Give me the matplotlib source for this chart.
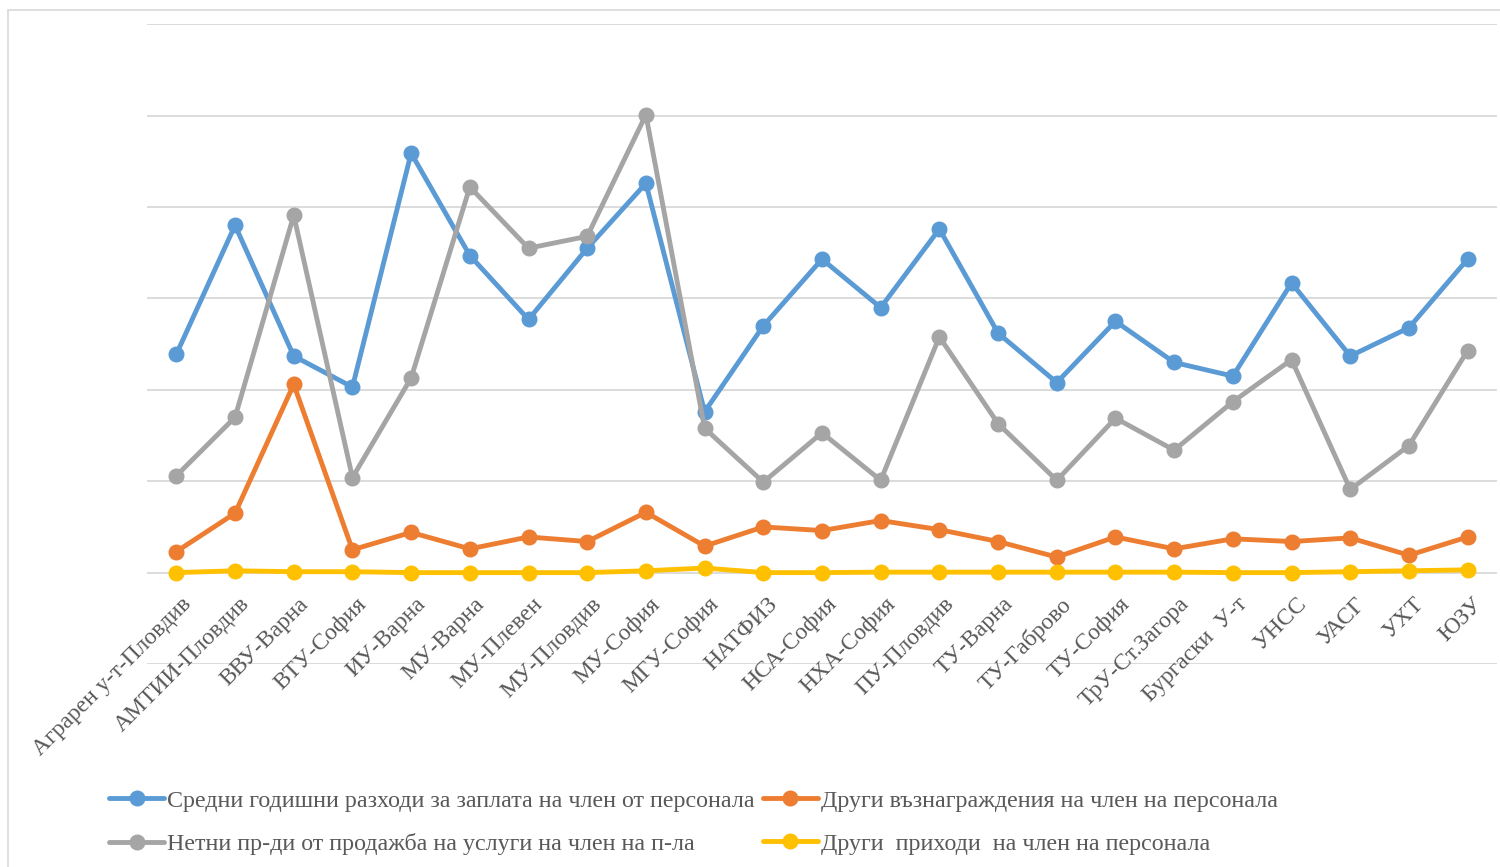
import matplotlib
matplotlib.use("Agg")
import matplotlib.pyplot as plt
import matplotlib.patches as mpatches
import matplotlib.transforms as mtransforms

categories = ["Аграрен у-т-Пловдив", "АМТИИ-Пловдив", "ВВУ-Варна", "ВТУ-София", "ИУ-Варна",
              "МУ-Варна", "МУ-Плевен", "МУ-Пловдив", "МУ-София", "МГУ-София", "НАТФИЗ",
              "НСА-София", "НХА-София", "ПУ-Пловдив", "ТУ-Варна", "ТУ-Габрово", "ТУ-София",
              "ТрУ-Ст.Загора", "Бургаски  У-т", "УНСС", "УАСГ", "УХТ", "ЮЗУ"]

salary = [2.39, 3.80, 2.37, 2.03, 4.59, 3.47, 2.77, 3.55, 4.26, 1.76, 2.70, 3.43,
          2.90, 3.76, 2.62, 2.08, 2.75, 2.30, 2.15, 3.17, 2.37, 2.68, 3.43]
other_pay = [0.23, 0.65, 2.06, 0.25, 0.44, 0.26, 0.39, 0.34, 0.66, 0.29, 0.50, 0.46,
             0.57, 0.47, 0.34, 0.17, 0.39, 0.26, 0.37, 0.34, 0.38, 0.19, 0.39]
net_sales = [1.06, 1.70, 3.91, 1.04, 2.13, 4.22, 3.55, 3.68, 5.01, 1.58, 0.99, 1.53,
             1.01, 2.58, 1.63, 1.01, 1.69, 1.34, 1.87, 2.33, 0.91, 1.39, 2.43]
other_income = [0.00, 0.02, 0.01, 0.01, 0.00, 0.00, 0.00, 0.00, 0.02, 0.05, 0.00, 0.00,
                0.005, 0.005, 0.005, 0.005, 0.005, 0.005, 0.00, 0.00, 0.01, 0.02, 0.03]

names = ["Средни годишни разходи за заплата на член от персонала",
         "Други възнаграждения на член на персонала",
         "Нетни пр-ди от продажба на услуги на член на п-ла",
         "Други  приходи  на член на персонала"]
colors = ["#5B9BD5", "#ED7D31", "#A5A5A5", "#FFC000"]

plt.rcParams['font.family'] = ['Liberation Serif', 'DejaVu Serif']

W, H = 1500, 867
fig = plt.figure(figsize=(W / 100, H / 100), dpi=100)

# outer chart border
fig.patches.append(mpatches.Rectangle((8 / W, -0.05), 1.1, 1 - 10 / H + 0.05,
                                      transform=fig.transFigure, fill=False,
                                      edgecolor="#d9d9d9", linewidth=1.2))

ax = fig.add_axes([147 / W, 1 - 664 / H, 1350 / W, (664 - 24.3) / H])
x = list(range(len(categories)))
series = [salary, other_pay, net_sales, other_income]
lines = []
for i, (vals, c, n) in enumerate(zip(series, colors, names)):
    ln, = ax.plot(x, vals, color=c, linewidth=3.5, marker='o', markersize=10.5,
                  label=n, zorder=3 + i, solid_capstyle='round')
    lines.append(ln)

ax.set_xlim(-0.5, len(categories) - 0.5)
ax.set_ylim(-1, 6)
ax.set_yticks(range(-1, 7))
ax.yaxis.grid(True, color="#d9d9d9", linewidth=1.3)
ax.set_axisbelow(True)
ax.tick_params(left=False, bottom=False, labelleft=False, labelbottom=False)
for s in ax.spines.values():
    s.set_visible(False)

offs = mtransforms.offset_copy(ax.transData, fig=fig, x=4, y=-21, units='dots')
for i, lab in enumerate(categories):
    ax.text(i, 0, lab, transform=offs, rotation=45, ha='right', va='top',
            rotation_mode='anchor', fontsize=17, color="#595959")

leg = fig.legend([lines[0], lines[2], lines[1], lines[3]],
                 [names[0], names[2], names[1], names[3]],
                 ncol=2, loc='upper left', bbox_to_anchor=(109 / W, 1 - 790 / H),
                 frameon=False, fontsize=17.3, handlelength=2.3, handletextpad=0.12,
                 columnspacing=0.33, labelspacing=0.88, borderaxespad=0, borderpad=0)
for t in leg.get_texts():
    t.set_color("#595959")

fig.savefig("out.png", dpi=100)
